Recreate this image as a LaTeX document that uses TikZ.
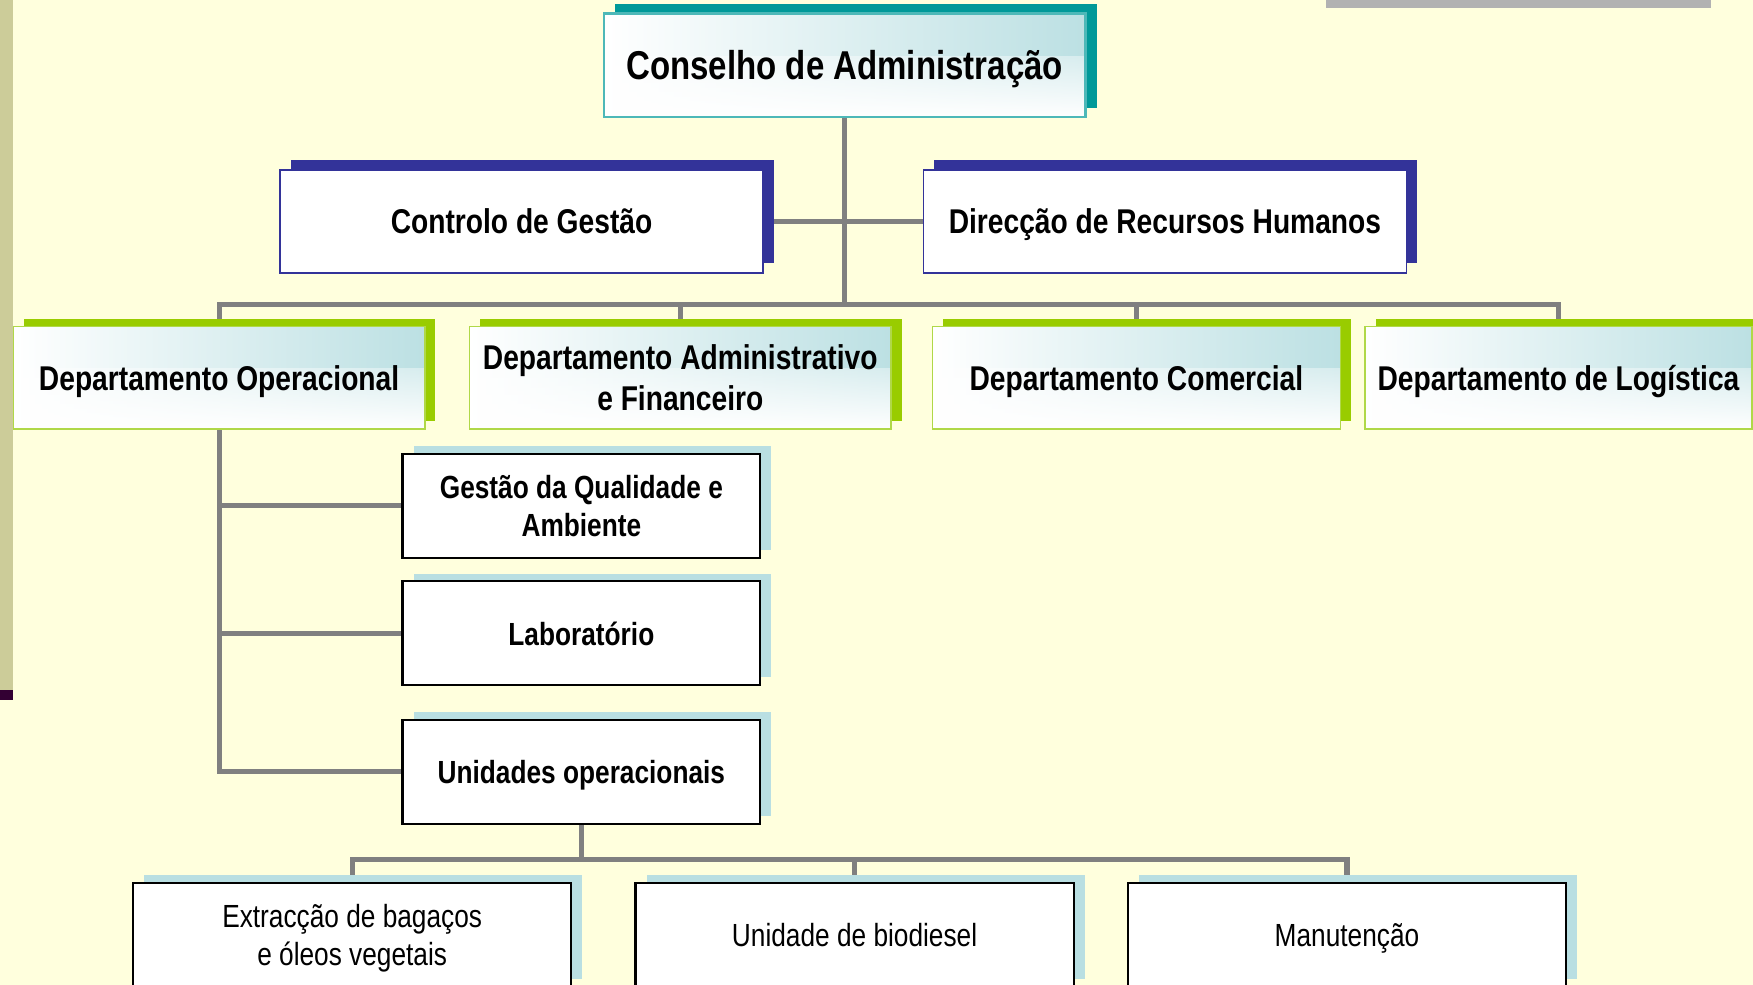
\documentclass[tikz,border=0pt]{standalone}
\usepackage{fontspec}
\setmainfont{Liberation Sans}[FakeStretch=0.82]
\usetikzlibrary{positioning,shadows,fadings,backgrounds}

\definecolor{bgyellow}{RGB}{255,255,221}
\definecolor{sidebar}{RGB}{204,204,153}
\definecolor{plum}{RGB}{51,0,51}
\definecolor{topbar}{RGB}{178,178,178}
\definecolor{linegray}{RGB}{128,128,128}
\definecolor{tealdark}{RGB}{0,153,153}
\definecolor{tealline}{RGB}{77,184,184}
\definecolor{navy}{RGB}{51,51,153}
\definecolor{limegreen}{RGB}{153,204,0}
\definecolor{limeline}{RGB}{176,216,72}
\definecolor{paleblue}{RGB}{185,223,226}
\definecolor{gradblue}{RGB}{188,224,227}

\tikzset{
  conn/.style={draw=linegray, line width=0.09cm},
  box/.style={rectangle, align=center, inner sep=2pt, minimum height=1.86cm, text depth=0pt},
  gradfill/.style={left color=white, right color=gradblue,
    path picture={\fill[white, path fading=north] (path picture bounding box.south west)
      rectangle ([yshift=1.1cm]path picture bounding box.south east);}},
  board/.style={box, gradfill, draw=tealline, line width=0.04cm, minimum width=8.62cm,
    general shadow={fill=tealdark, shadow xshift=0.2cm, shadow yshift=0.16cm},
    font=\bfseries\fontsize{20.5}{24}\selectfont},
  staff/.style={box, fill=white, draw=navy, line width=0.03cm, minimum width=8.64cm,
    minimum height=1.84cm,
    general shadow={fill=navy, shadow xshift=0.19cm, shadow yshift=0.18cm},
    font=\bfseries\fontsize{17.5}{21}\selectfont},
  dept/.style={box, gradfill, draw=limeline, line width=0.03cm, minimum height=1.84cm,
    general shadow={fill=limegreen, shadow xshift=0.19cm, shadow yshift=0.14cm},
    font=\bfseries\fontsize{17.5}{21}\selectfont},
  unit/.style={box, fill=white, draw=black, line width=0.04cm, minimum width=6.4cm,
    general shadow={fill=paleblue, shadow xshift=0.2cm, shadow yshift=0.14cm},
    font=\bfseries\fontsize{16.3}{19.5}\selectfont},
  subunit/.style={unit, minimum width=7.84cm, font=\fontsize{16.3}{19.5}\selectfont},
}

\begin{document}
\begin{tikzpicture}[x=0.02cm, y=-0.02cm]
  \useasboundingbox (0,0) rectangle (1568,881);
  \begin{scope}[on background layer]
    \fill[bgyellow] (0,0) rectangle (1568,881);
  \end{scope}
  \clip (0,0) rectangle (1568,881);
  \fill[sidebar] (0,0) rectangle (12,617);
  \fill[plum] (0,617) rectangle (12,626);
  \fill[topbar] (1186,0) rectangle (1530,7);

  \node[board]                      (cons) at (755.5,58.5) {Conselho de Administração};
  \node[staff]                      (ctrl) at (466.5,198)  {Controlo de Gestão};
  \node[staff]                      (drh)  at (1042,198)   {Direcção de Recursos Humanos};
  \node[dept, minimum width=7.36cm] (dop)  at (196,338)    {Departamento Operacional};
  \node[dept, minimum width=7.54cm] (daf)  at (608.5,338)  {Departamento Administrativo\\e Financeiro};
  \node[dept, minimum width=7.3cm]  (dcom) at (1016.5,338) {Departamento Comercial};
  \node[dept, minimum width=6.92cm] (dlog) at (1394,338)   {Departamento de Logística};
  \node[unit]                       (gq)   at (520,452.5)  {Gestão da Qualidade e\\Ambiente};
  \node[unit, below=0.38cm of gq]   (lab)  {Laboratório};
  \node[unit, below=0.58cm of lab]  (uop)  {Unidades operacionais};
  \node[subunit]                    (ext)  at (315,836.5)  {Extracção de bagaços\\e óleos vegetais};
  \node[subunit, right=1.11cm of ext] (bio) {Unidade de biodiesel};
  \node[subunit, right=0.93cm of bio] (man) {Manutenção};

  % Connect the nodes
  \begin{scope}[on background layer]
    \draw[conn] (cons.south) -- ++(0,166) coordinate (dbus);
    \draw[conn] (ctrl.east) -- (drh.west);
    \draw[conn] (dbus) -| (dop.north);
    \draw[conn] (dbus) -| (daf.north);
    \draw[conn] (dbus) -| (dcom.north);
    \draw[conn] (dbus) -| (dlog.north);
    \draw[conn] (dop.south) |- (gq.west);
    \draw[conn] (dop.south) |- (lab.west);
    \draw[conn] (dop.south) |- (uop.west);
    \draw[conn] (uop.south) -- ++(0,31) coordinate (ubus);
    \draw[conn] (ubus) -| (ext.north);
    \draw[conn] (ubus) -| (bio.north);
    \draw[conn] (ubus) -| (man.north);
  \end{scope}
\end{tikzpicture}
\end{document}
